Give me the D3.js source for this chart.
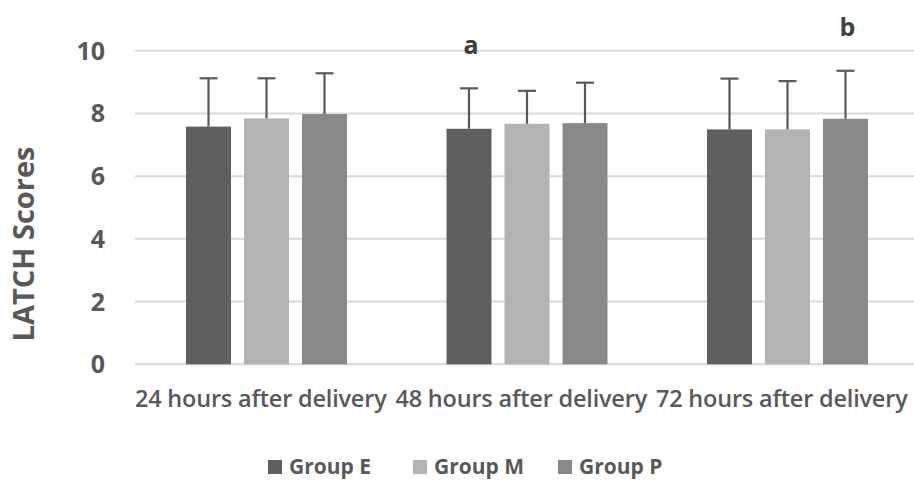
<!DOCTYPE html>
<html>
<head>
<meta charset="utf-8">
<script src="https://cdn.jsdelivr.net/npm/d3@7"></script>
<style>
    body { margin: 0; background: #fff; }
    text { font-family: "Open Sans", "DejaVu Sans", sans-serif; fill: #595959; }
</style>
</head>
<body>
<div id="chart"></div>
<script>
// data
let categories = ["24 hours after delivery", "48 hours after delivery", "72 hours after delivery"];
let groups = ["Group E", "Group M", "Group P"];
let groupE = [7.58, 7.51, 7.49];
let groupM = [7.84, 7.67, 7.49];
let groupP = [7.98, 7.69, 7.83];
let sdE = [1.54, 1.29, 1.62];
let sdM = [1.28, 1.05, 1.54];
let sdP = [1.30, 1.29, 1.53];
let yTicks = [0, 2, 4, 6, 8, 10];
// significance letters: [category index, group index, letter]
let marks = [[1, 0, "a"], [2, 2, "b"]];

let colors = ["#5f5f5f", "#b3b3b3", "#898989"];

document.addEventListener("DOMContentLoaded", () => {
    drawChart();
});

let drawChart = () => {
    var width = 914
    var height = 480

    var svg = d3.select("#chart")
        .append("svg")
        .attr("width", width)
        .attr("height", height)

    var x = d3.scaleBand()
        .domain(categories)
        .range([135.5, 917])

    var xInner = d3.scaleBand()
        .domain(groups)
        .range([50.5, 50.5 + 3 * 45 + 2 * 13])
        .paddingInner(13 / 58)

    var y = d3.scaleLinear()
        .domain([0, 10])
        .range([364.3, 50.7])

    // gridlines
    svg.append("g")
        .selectAll("line")
        .data(yTicks)
        .enter()
        .append("line")
        .attr("x1", 135)
        .attr("x2", width)
        .attr("y1", d => y(d))
        .attr("y2", d => y(d))
        .attr("stroke", "#d9d9d9")
        .attr("stroke-width", 2)

    // y tick labels
    svg.append("g")
        .selectAll("text")
        .data(yTicks)
        .enter()
        .append("text")
        .attr("x", 105)
        .attr("y", d => y(d) + 9)
        .attr("text-anchor", "end")
        .style("font-size", "25px")
        .style("font-weight", "bold")
        .text(d => d)

    // y axis title
    svg.append("text")
        .attr("transform", "translate(34,244) rotate(-90)")
        .attr("text-anchor", "middle")
        .style("font-size", "29px")
        .style("font-weight", "bold")
        .text("LATCH Scores")

    var series = [groupE, groupM, groupP];
    var sds = [sdE, sdM, sdP];
    var rows = [];
    categories.forEach((c, i) => {
        groups.forEach((g, j) => {
            rows.push({ cat: c, group: g, gi: j, value: series[j][i], sd: sds[j][i] });
        });
    });

    // bars
    svg.append("g")
        .selectAll("rect")
        .data(rows)
        .enter()
        .append("rect")
        .attr("x", d => x(d.cat) + xInner(d.group))
        .attr("width", xInner.bandwidth())
        .attr("y", d => y(d.value))
        .attr("height", d => y(0) - y(d.value))
        .attr("fill", d => colors[d.gi])

    // error bars
    var err = svg.append("g")
        .selectAll("g")
        .data(rows)
        .enter()
        .append("g")
        .attr("stroke", "#595959")
        .attr("stroke-width", 2.2)

    err.append("line")
        .attr("x1", d => x(d.cat) + xInner(d.group) + xInner.bandwidth() / 2)
        .attr("x2", d => x(d.cat) + xInner(d.group) + xInner.bandwidth() / 2)
        .attr("y1", d => y(d.value))
        .attr("y2", d => y(d.value + d.sd))

    err.append("line")
        .attr("x1", d => x(d.cat) + xInner(d.group) + xInner.bandwidth() / 2 - 9)
        .attr("x2", d => x(d.cat) + xInner(d.group) + xInner.bandwidth() / 2 + 9)
        .attr("y1", d => y(d.value + d.sd))
        .attr("y2", d => y(d.value + d.sd))

    // category labels
    svg.append("g")
        .selectAll("text")
        .data(categories)
        .enter()
        .append("text")
        .attr("x", d => x(d) + x.bandwidth() / 2 - 5)
        .attr("y", 407)
        .attr("text-anchor", "middle")
        .style("font-size", "23.5px")
        .style("font-weight", "600")
        .style("letter-spacing", "-0.2px")
        .text(d => d)

    // significance letters
    svg.append("g")
        .selectAll("text")
        .data(marks)
        .enter()
        .append("text")
        .attr("x", d => x(categories[d[0]]) + xInner(groups[d[1]]) + xInner.bandwidth() / 2 + 2)
        .attr("y", d => d[0] == 1 ? 54 : 36)
        .attr("text-anchor", "middle")
        .style("font-size", "25px")
        .style("font-weight", "bold")
        .style("fill", "#404040")
        .text(d => d[2])

    // legend
    var legendX = [268, 413, 558];
    var legend = svg.append("g")
        .selectAll("g")
        .data(groups)
        .enter()
        .append("g")
        .attr("transform", (d, i) => "translate(" + legendX[i] + ",460)")

    legend.append("rect")
        .attr("width", 14)
        .attr("height", 14)
        .attr("fill", (d, i) => colors[i])

    legend.append("text")
        .attr("x", 21)
        .attr("y", 14)
        .style("font-size", "21px")
        .style("font-weight", "bold")
        .text(d => d)
}
</script>
</body>
</html>
